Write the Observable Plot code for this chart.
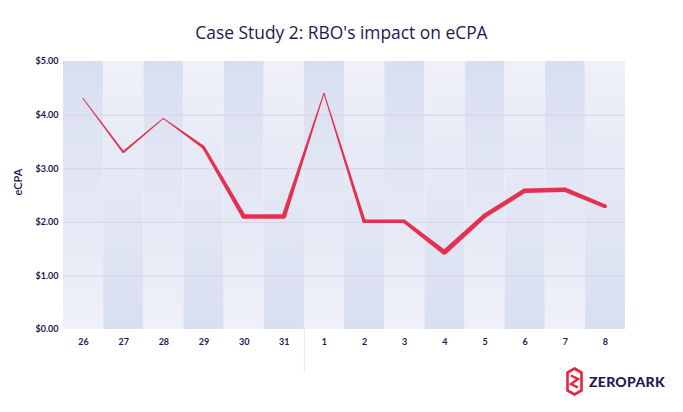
<!DOCTYPE html>
<html><head><meta charset="utf-8">
<script src="https://cdn.jsdelivr.net/npm/d3@7"></script>
<script src="https://cdn.jsdelivr.net/npm/@observablehq/plot@0.6"></script>
<style>
body{margin:0;background:#fff;}
#wrap{position:relative;width:683px;height:412px;overflow:hidden;font-family:"Open Sans",sans-serif;}
#title{position:absolute;left:0;top:21px;width:683px;text-align:center;font-size:17.4px;line-height:22px;color:#1d1a50;font-weight:500;}
#chart{position:absolute;left:0;top:0;}
#logo{position:absolute;left:566px;top:367px;display:flex;align-items:center;gap:6px;}
#logo span{font-family:"Lato",sans-serif;font-weight:900;font-size:14px;color:#1d1a50;letter-spacing:0.3px;}
</style></head><body>
<div id="wrap">
<div id="chart"></div>
<div id="title">Case Study 2: RBO's impact on eCPA</div>
<div id="logo">
<svg width="17" height="29" viewBox="0 0 17 29">
<polygon points="8.5,1.5 15.5,5.5 15.5,23.5 8.5,27.5 1.5,23.5 1.5,5.5" fill="#fff" stroke="#e8233f" stroke-width="2.6" stroke-linejoin="miter"/>
<polyline points="5,8.5 12,12 5,17 12,20.5" fill="none" stroke="#e8233f" stroke-width="2.4"/>
</svg>
<span>ZEROPARK</span>
</div>
</div>
<script>
const days = ["26","27","28","29","30","31","1","2","3","4","5","6","7","8"];
const ecpa = [4.30,3.30,3.93,3.39,2.10,2.10,4.40,2.01,2.01,1.43,2.11,2.58,2.60,2.29];
const volume = [1,2,1,3,4.5,4.5,1,3.5,3.5,5,4.5,4.5,4.5,4];
const yTicks = [0,1,2,3,4,5];
const gridTicks = [1,2,3,4];
const separator = ["1"];

const rows = days.map((d,i)=>({day:d, ecpa:ecpa[i], volume:volume[i]}));
const navy = "#1d1a50";
const red = "#e5304f";

const chart = Plot.plot({
  width: 683, height: 412,
  marginTop: 61, marginBottom: 83, marginLeft: 63, marginRight: 58,
  style: {fontFamily: "Lato, sans-serif", fontSize: "9px", fontWeight: 700, color: navy, background: "transparent", overflow: "visible"},
  x: {domain: days, padding: 0, round: false, tickSize: 0, tickPadding: 9, label: null},
  y: {domain: [0,5], ticks: yTicks, tickSize: 0, tickPadding: 5, tickFormat: d => "$" + d.toFixed(2), label: null},
  marks: [
    Plot.cell(days.filter((d,i)=>i%2===0), {x: d=>d, fill: "url(#gA)", inset: 0}),
    Plot.cell(days.filter((d,i)=>i%2===1), {x: d=>d, fill: "url(#gB)", inset: 0}),
    Plot.ruleY(gridTicks, {stroke: "#d2d5e6", strokeWidth: 1}),
    Plot.ruleX(separator, {x: d=>d, y1: 0, y2: -0.8, dx: -20.07, stroke: "#e6e6ee", strokeWidth: 1}),
    Plot.text(["eCPA"], {frameAnchor: "left", dx: -45, rotate: -90, fontSize: 11, fontWeight: 600, fill: navy})
  ]
});
document.getElementById("chart").appendChild(chart);

const svg = d3.select(chart);
const defs = svg.insert("defs", ":first-child");
const gA = defs.append("linearGradient").attr("id","gA").attr("x1",0).attr("y1",0).attr("x2",0).attr("y2",1);
gA.append("stop").attr("offset","0%").attr("stop-color","#d8dff0");
gA.append("stop").attr("offset","100%").attr("stop-color","#eff0f9");
const gB = defs.append("linearGradient").attr("id","gB").attr("x1",0).attr("y1",0).attr("x2",0).attr("y2",1);
gB.append("stop").attr("offset","0%").attr("stop-color","#eff0f9");
gB.append("stop").attr("offset","100%").attr("stop-color","#d8dff0");

// tapered line drawn with the plot's own scales
const xs = chart.scale("x"), ys = chart.scale("y");
const X = d3.scaleBand(xs.domain, xs.range).paddingInner(0).paddingOuter(0);
const Y = d3.scaleLinear(ys.domain, ys.range);
const W = d3.scaleLinear([1,5],[1,5]);
const pts = rows.map(r => [X(r.day) + X.bandwidth()/2, Y(r.ecpa), W(r.volume)]);
const g = svg.append("g").attr("fill", red);
for (let i = 0; i < pts.length - 1; i++) {
  const [x0,y0,w0] = pts[i], [x1,y1,w1] = pts[i+1];
  const dx = x1-x0, dy = y1-y0, L = Math.hypot(dx,dy);
  const nx = -dy/L, ny = dx/L;
  g.append("polygon").attr("points", [
    [x0+nx*w0/2, y0+ny*w0/2], [x1+nx*w1/2, y1+ny*w1/2],
    [x1-nx*w1/2, y1-ny*w1/2], [x0-nx*w0/2, y0-ny*w0/2]
  ].map(p=>p.join(",")).join(" "));
}
pts.forEach(([x,y,w]) => g.append("circle").attr("cx",x).attr("cy",y).attr("r",w/2));
</script>
</body></html>
